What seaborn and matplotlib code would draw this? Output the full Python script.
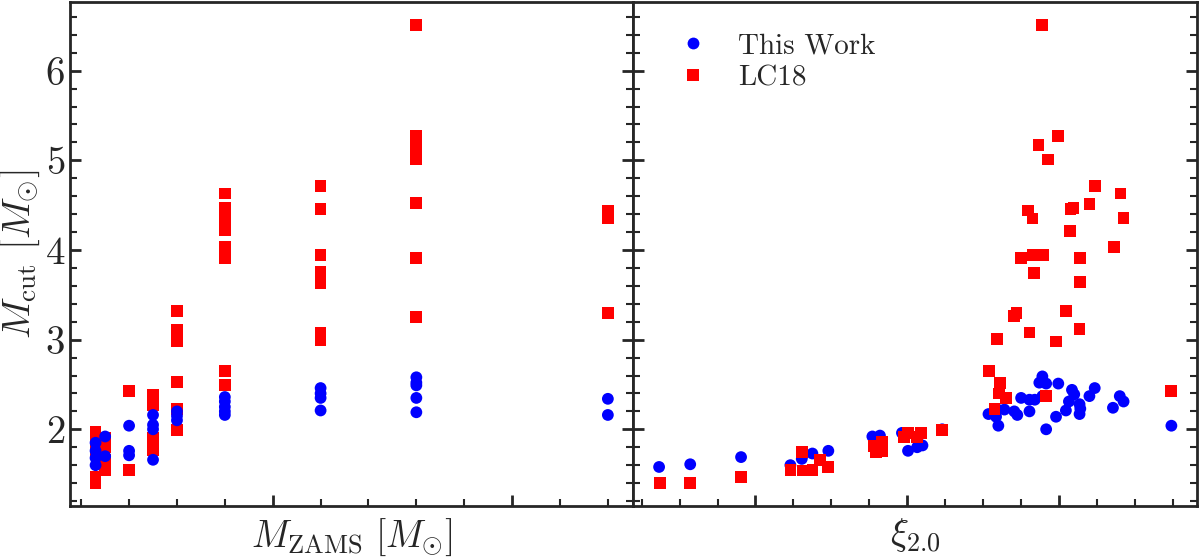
import numpy as np
import pandas as pd
import matplotlib
matplotlib.use("Agg")
import matplotlib.pyplot as plt
from matplotlib.ticker import MultipleLocator, NullFormatter
import seaborn as sns

# ---------------- data: left panel (M_ZAMS vs M_cut) ----------------
lc18_mzams = ([13]*5 + [15]*4 + [20]*2 + [25]*5 + [30]*6 + [40]*10 +
              [60]*8 + [80]*8 + [120]*3)
lc18_mcut_left = [1.97, 1.86, 1.73, 1.47, 1.40,
                  1.90, 1.80, 1.66, 1.55,
                  2.43, 1.55,
                  2.38, 2.32, 2.27, 1.90, 1.77,
                  3.32, 3.11, 2.98, 2.53, 2.23, 1.99,
                  4.63, 4.47, 4.41, 4.35, 4.22, 4.03, 3.97, 3.91, 2.65, 2.49,
                  4.71, 4.46, 3.94, 3.75, 3.69, 3.63, 3.08, 3.00,
                  6.51, 5.27, 5.19, 5.13, 5.01, 4.52, 3.91, 3.25,
                  4.44, 4.35, 3.30]

tw_mzams = ([13]*4 + [15]*2 + [20]*3 + [25]*4 + [30]*3 + [40]*5 +
            [60]*4 + [80]*5 + [120]*2)
tw_mcut_left = [1.85, 1.76, 1.68, 1.60,
                1.92, 1.70,
                2.04, 1.76, 1.71,
                2.16, 2.05, 2.00, 1.66,
                2.20, 2.15, 2.10,
                2.36, 2.31, 2.25, 2.20, 2.16,
                2.46, 2.40, 2.35, 2.21,
                2.58, 2.52, 2.49, 2.35, 2.19,
                2.34, 2.16]

# ---------------- data: right panel (xi_2.0 vs M_cut) ----------------
tw_xi = [0.073, 0.114, 0.181, 0.246, 0.261, 0.263, 0.275, 0.296,
         0.354, 0.364, 0.393, 0.401, 0.413, 0.420, 0.446,
         0.507, 0.519, 0.520, 0.528, 0.541, 0.545, 0.517, 0.550, 0.561,
         0.568, 0.561, 0.578, 0.574, 0.583, 0.578, 0.599, 0.583, 0.596,
         0.617, 0.620, 0.613, 0.609, 0.627, 0.628, 0.627, 0.640, 0.647,
         0.671, 0.680, 0.685, 0.748]
tw_mcut_right = [1.58, 1.61, 1.69, 1.60, 1.67, 1.72, 1.73, 1.76,
                 1.92, 1.93, 1.96, 1.76, 1.80, 1.82, 2.00,
                 2.17, 2.22, 2.04, 2.22, 2.20, 2.16, 2.14, 2.35, 2.33,
                 2.33, 2.20, 2.59, 2.52, 2.51, 2.37, 2.51, 2.00, 2.14,
                 2.44, 2.39, 2.31, 2.21, 2.28, 2.23, 2.17, 2.37, 2.46,
                 2.24, 2.37, 2.31, 2.04]

lc18_xi = [0.074, 0.114, 0.181, 0.246, 0.261, 0.263, 0.275, 0.285, 0.296,
           0.356, 0.359, 0.367, 0.367, 0.396, 0.401, 0.413, 0.418, 0.446,
           0.508, 0.522, 0.521, 0.530, 0.515, 0.583, 0.748,
           0.578, 0.573, 0.599, 0.585, 0.647, 0.681, 0.559, 0.565, 0.615,
           0.619, 0.640, 0.685, 0.614, 0.672, 0.550, 0.566, 0.579, 0.628,
           0.567, 0.628, 0.544, 0.541, 0.609, 0.561, 0.627, 0.518, 0.596]
lc18_mcut_right = [1.40, 1.40, 1.47, 1.55, 1.75, 1.54, 1.55, 1.66, 1.58,
                   1.81, 1.75, 1.86, 1.76, 1.91, 1.96, 1.91, 1.96, 1.99,
                   2.65, 2.52, 2.40, 2.35, 2.23, 2.37, 2.43,
                   6.51, 5.17, 5.27, 5.01, 4.71, 4.63, 4.44, 4.35, 4.46,
                   4.47, 4.51, 4.36, 4.21, 4.03, 3.91, 3.94, 3.94, 3.91,
                   3.74, 3.64, 3.30, 3.26, 3.32, 3.08, 3.12, 3.01, 2.98]

series_names = ["This Work", "LC18"]
series_colors = {"This Work": "#0000ff", "LC18": "#ff0000"}
series_markers = {"This Work": "o", "LC18": "s"}

# left: LC18 drawn first (blue on top); right: This Work first (red on top)
df_left = pd.concat([
    pd.DataFrame({"x": lc18_mzams, "y": lc18_mcut_left, "src": "LC18"}),
    pd.DataFrame({"x": tw_mzams, "y": tw_mcut_left, "src": "This Work"}),
], ignore_index=True)
df_right = pd.concat([
    pd.DataFrame({"x": tw_xi, "y": tw_mcut_right, "src": "This Work"}),
    pd.DataFrame({"x": lc18_xi, "y": lc18_mcut_right, "src": "LC18"}),
], ignore_index=True)

sns.set_style("ticks")
plt.rcParams.update({
    "font.family": "serif",
    "font.serif": ["cmr10"],
    "mathtext.fontset": "cm",
    "axes.formatter.use_mathtext": True,
    "axes.linewidth": 2.0,
    "axes.unicode_minus": False,
})

fig, (axL, axR) = plt.subplots(1, 2, figsize=(12, 5.59), dpi=100, sharey=True)
fig.subplots_adjust(left=0.0583, right=0.9975, top=0.9964, bottom=0.0948, wspace=0)

sns.scatterplot(data=df_left, x="x", y="y", hue="src", style="src",
                hue_order=series_names, style_order=series_names,
                palette=series_colors, markers=series_markers,
                s=72, linewidth=0, edgecolor="none", ax=axL, legend=False)
sns.scatterplot(data=df_right, x="x", y="y", hue="src", style="src",
                hue_order=series_names, style_order=series_names,
                palette=series_colors, markers=series_markers,
                s=72, linewidth=0, edgecolor="none", ax=axR, legend=True)

for ax in (axL, axR):
    ax.tick_params(which="both", direction="in", top=False, right=True,
                   left=True, bottom=True, labelsize=28)
    ax.tick_params(which="major", length=8, width=2.0)
    ax.tick_params(which="minor", length=5, width=1.5)
    ax.yaxis.set_major_locator(MultipleLocator(1))
    ax.yaxis.set_minor_locator(MultipleLocator(0.2))
    ax.xaxis.set_major_formatter(NullFormatter())
    for sp in ax.spines.values():
        sp.set_visible(True)
        sp.set_linewidth(2.0)

axL.xaxis.set_major_locator(MultipleLocator(50))
axL.xaxis.set_minor_locator(MultipleLocator(10))
axR.xaxis.set_major_locator(MultipleLocator(0.2))
axR.xaxis.set_minor_locator(MultipleLocator(0.05))
axR.tick_params(labelleft=False)

axL.set_ylabel(r"$M_{\rm cut}\ [M_{\odot}]$", fontsize=28, labelpad=2)
axL.set_xlabel(r"$M_{\rm ZAMS}\ [M_{\odot}]$", fontsize=27, labelpad=4)
axR.set_xlabel(r"$\xi_{2.0}$", fontsize=27, labelpad=4)
axR.set_ylabel("")

sns.move_legend(axR, "upper left", frameon=False, title=None, fontsize=21,
                handletextpad=0.55, labelspacing=0.2, borderaxespad=0.65)
leg = axR.get_legend()
for h in leg.legend_handles:
    try:
        h.set_markersize(8.5)
    except Exception:
        pass

fig.savefig("out.png", dpi=100)
